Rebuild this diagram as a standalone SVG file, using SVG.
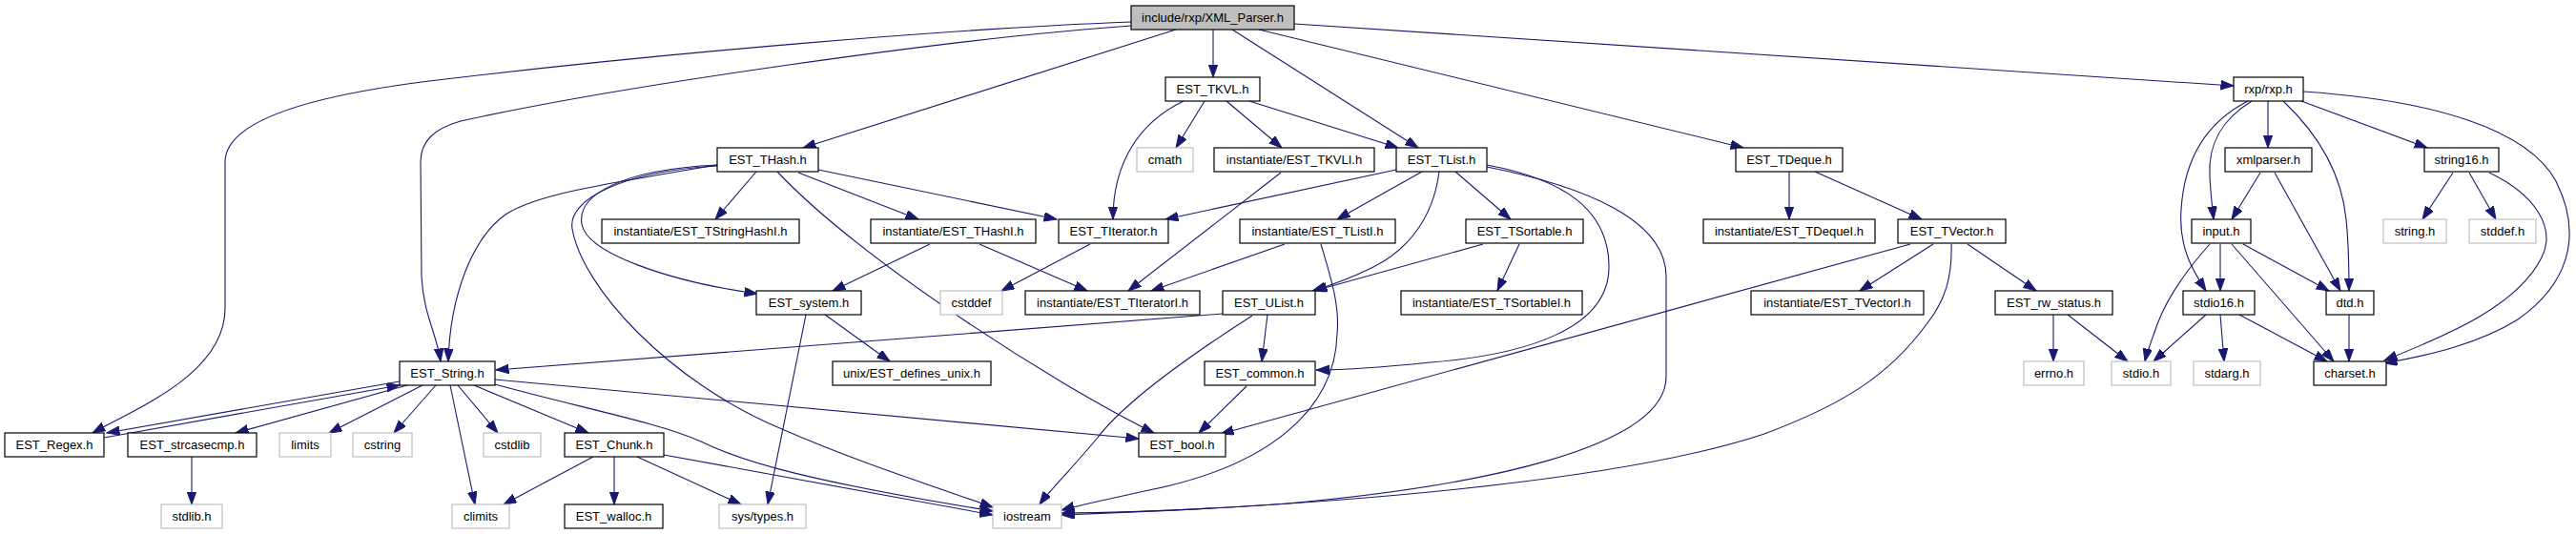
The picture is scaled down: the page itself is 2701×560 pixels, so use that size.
<svg xmlns="http://www.w3.org/2000/svg" width="2701" height="560" viewBox="0 0 2701 560">
<style>
.n rect{fill:#ffffff;stroke:#000000;stroke-width:1.2}
.g rect{fill:#ffffff;stroke:#bfbfbf;stroke-width:1.2}
.r rect{fill:#bfbfbf;stroke:#000000;stroke-width:1.2}
text{font-family:"Liberation Sans",Arial,sans-serif;font-size:13px;fill:#000000;text-anchor:middle}
#edges path{fill:none;stroke:#191970;stroke-width:1.1;marker-end:url(#a)}
</style>
<defs>
<marker id="a" markerWidth="15" markerHeight="11" refX="13.5" refY="4.8" orient="auto" markerUnits="userSpaceOnUse">
<path d="M0,0 L13.5,4.8 L0,9.6 z" fill="#191970" stroke="#191970" stroke-width="1"/>
</marker>
</defs>
<rect width="2701" height="560" fill="#ffffff"/>
<g id="edges">
<path d="M1186,23 C1000,30 700,55 450,85 C330,100 236,125 236,170 L236,323 C236,390 150,425 97,454"/>
<path d="M1186,27 C1000,40 650,90 483,127 C455,135 441,148 441,170 L442,290 C444,330 458,350 462,379"/>
<path d="M1233,31 L842,155"/>
<path d="M1272,31 L1272,81"/>
<path d="M1292,31 L1487,155"/>
<path d="M1320,31 L1828,155"/>
<path d="M1357,25 L2342,90"/>
<path d="M1241,106 C1195,128 1167,170 1167,230"/>
<path d="M1263,106 L1233,155"/>
<path d="M1286,106 L1344,155"/>
<path d="M1310,106 L1466,155"/>
<path d="M793,180 L750,230"/>
<path d="M752,173 C620,195 560,205 530,225 C495,250 472,310 470,379"/>
<path d="M752,173 C650,178 605,205 610,235 C615,265 700,295 794,308"/>
<path d="M752,174 C650,180 595,210 600,240 C610,300 700,400 820,450 C900,485 980,510 1041,532"/>
<path d="M815,180 C900,270 1100,400 1210,454"/>
<path d="M837,181 L963,230"/>
<path d="M858,178 L1108,230"/>
<path d="M1464,178 L1222,230"/>
<path d="M1491,180 L1402,230"/>
<path d="M1526,180 L1584,230"/>
<path d="M1509,180 C1502,235 1470,265 1440,280 C1420,290 1400,298 1376,305"/>
<path d="M1555,256 L1378,305"/>
<path d="M1559,173 C1640,188 1687,220 1687,280 C1687,345 1600,372 1500,380 C1450,385 1410,388 1380,388"/>
<path d="M1559,175 C1660,195 1747,230 1747,290 L1747,395 C1747,470 1550,510 1350,528 C1250,535 1170,538 1113,538"/>
<path d="M1385,256 C1395,290 1405,320 1402,350 C1400,430 1330,490 1200,515 C1160,524 1130,530 1113,535"/>
<path d="M1343,181 L1183,305"/>
<path d="M1347,256 L1207,305"/>
<path d="M975,256 L873,305"/>
<path d="M1027,256 L1140,305"/>
<path d="M1143,256 L1050,305"/>
<path d="M1593,256 L1570,305"/>
<path d="M1876,180 L1876,230"/>
<path d="M1903,180 L2015,230"/>
<path d="M2003,256 L1280,455"/>
<path d="M2027,256 L1950,305"/>
<path d="M2046,256 C2047,290 2040,315 2020,340 C1980,395 1930,425 1850,455 C1700,505 1400,530 1113,540"/>
<path d="M2063,256 L2135,305"/>
<path d="M2153,330 L2153,379"/>
<path d="M2168,330 L2231,379"/>
<path d="M2378,106 L2378,155"/>
<path d="M2413,106 L2545,155"/>
<path d="M2361,106 C2330,125 2315,150 2317,185 C2318,205 2320,220 2321,230"/>
<path d="M2357,106 C2310,130 2290,170 2287,220 C2284,260 2300,285 2313,305"/>
<path d="M2394,106 C2430,140 2455,180 2460,230 C2463,260 2463,285 2463,305"/>
<path d="M2415,96 C2550,105 2650,135 2680,190 C2710,250 2690,300 2640,335 C2600,360 2550,372 2500,381"/>
<path d="M2610,181 C2660,205 2680,240 2665,270 C2640,320 2570,350 2500,378"/>
<path d="M2572,181 L2540,230"/>
<path d="M2589,181 L2617,230"/>
<path d="M2370,181 L2340,230"/>
<path d="M2385,181 L2454,305"/>
<path d="M2317,256 C2300,275 2275,305 2262,340 C2255,360 2251,370 2249,379"/>
<path d="M2328,256 L2328,305"/>
<path d="M2340,256 L2447,379"/>
<path d="M2352,256 L2442,305"/>
<path d="M2313,330 L2258,379"/>
<path d="M2328,330 L2332,379"/>
<path d="M2348,330 L2440,379"/>
<path d="M2463,330 L2463,379"/>
<path d="M419,400 L112,454"/>
<path d="M109,459 L419,404"/>
<path d="M427,404 L247,454"/>
<path d="M443,404 L345,454"/>
<path d="M457,404 L413,454"/>
<path d="M472,404 L498,529"/>
<path d="M480,404 L522,454"/>
<path d="M497,404 L617,454"/>
<path d="M519,403 C610,428 690,443 735,463 C780,485 850,505 1041,536"/>
<path d="M519,398 L1194,460"/>
<path d="M622,479 L528,529"/>
<path d="M644,479 L644,529"/>
<path d="M668,479 L777,529"/>
<path d="M696,477 L1041,540"/>
<path d="M201,479 L201,529"/>
<path d="M845,330 L805,529"/>
<path d="M865,330 L933,379"/>
<path d="M1282,329 L520,388"/>
<path d="M1329,330 L1323,379"/>
<path d="M1313,331 C1260,365 1180,420 1150,460 C1125,490 1100,515 1090,529"/>
<path d="M1307,405 L1257,454"/>
</g>
<g id="root" class="r"><rect x="1186" y="6" width="171" height="25"/><text x="1271.5" y="23">include/rxp/XML_Parser.h</text></g>
<g id="tkvl" class="n"><rect x="1222" y="81" width="99" height="25"/><text x="1271.5" y="98">EST_TKVL.h</text></g>
<g id="rxp" class="n"><rect x="2342" y="81" width="73" height="25"/><text x="2378.5" y="98">rxp/rxp.h</text></g>
<g id="thash" class="n"><rect x="752" y="155" width="106" height="25"/><text x="805" y="172">EST_THash.h</text></g>
<g id="cmath" class="g"><rect x="1192" y="155" width="59" height="25"/><text x="1221.5" y="172">cmath</text></g>
<g id="tkvli" class="n"><rect x="1273" y="155" width="168" height="25"/><text x="1357" y="172">instantiate/EST_TKVLI.h</text></g>
<g id="tlist" class="n"><rect x="1464" y="155" width="95" height="25"/><text x="1511.5" y="172">EST_TList.h</text></g>
<g id="tdeque" class="n"><rect x="1820" y="155" width="112" height="25"/><text x="1876" y="172">EST_TDeque.h</text></g>
<g id="xmlparser" class="n"><rect x="2333" y="155" width="91" height="25"/><text x="2378.5" y="172">xmlparser.h</text></g>
<g id="string16" class="n"><rect x="2542" y="155" width="78" height="25"/><text x="2581" y="172">string16.h</text></g>
<g id="tstringhashi" class="n"><rect x="631" y="230" width="207" height="25"/><text x="734.5" y="247">instantiate/EST_TStringHashI.h</text></g>
<g id="thashi" class="n"><rect x="913" y="230" width="173" height="25"/><text x="999.5" y="247">instantiate/EST_THashI.h</text></g>
<g id="titerator" class="n"><rect x="1110" y="230" width="115" height="25"/><text x="1167.5" y="247">EST_TIterator.h</text></g>
<g id="tlisti" class="n"><rect x="1300" y="230" width="163" height="25"/><text x="1381.5" y="247">instantiate/EST_TListI.h</text></g>
<g id="tsortable" class="n"><rect x="1537" y="230" width="123" height="25"/><text x="1598.5" y="247">EST_TSortable.h</text></g>
<g id="tdequei" class="n"><rect x="1786" y="230" width="180" height="25"/><text x="1876" y="247">instantiate/EST_TDequeI.h</text></g>
<g id="tvector" class="n"><rect x="1990" y="230" width="113" height="25"/><text x="2046.5" y="247">EST_TVector.h</text></g>
<g id="input" class="n"><rect x="2298" y="230" width="62" height="25"/><text x="2329" y="247">input.h</text></g>
<g id="stringh" class="g"><rect x="2499" y="230" width="66" height="25"/><text x="2532" y="247">string.h</text></g>
<g id="stddef" class="g"><rect x="2589" y="230" width="70" height="25"/><text x="2624" y="247">stddef.h</text></g>
<g id="system" class="n"><rect x="793" y="305" width="110" height="25"/><text x="848" y="322">EST_system.h</text></g>
<g id="cstddef" class="g"><rect x="986" y="305" width="65" height="25"/><text x="1018.5" y="322">cstddef</text></g>
<g id="titeratori" class="n"><rect x="1075" y="305" width="183" height="25"/><text x="1166.5" y="322">instantiate/EST_TIteratorI.h</text></g>
<g id="ulist" class="n"><rect x="1282" y="305" width="97" height="25"/><text x="1330.5" y="322">EST_UList.h</text></g>
<g id="tsortablei" class="n"><rect x="1469" y="305" width="190" height="25"/><text x="1564" y="322">instantiate/EST_TSortableI.h</text></g>
<g id="tvectori" class="n"><rect x="1836" y="305" width="181" height="25"/><text x="1926.5" y="322">instantiate/EST_TVectorI.h</text></g>
<g id="rwstatus" class="n"><rect x="2092" y="305" width="123" height="25"/><text x="2153.5" y="322">EST_rw_status.h</text></g>
<g id="stdio16" class="n"><rect x="2289" y="305" width="75" height="25"/><text x="2326.5" y="322">stdio16.h</text></g>
<g id="dtd" class="n"><rect x="2439" y="305" width="50" height="25"/><text x="2464" y="322">dtd.h</text></g>
<g id="string" class="n"><rect x="419" y="379" width="100" height="25"/><text x="469" y="396">EST_String.h</text></g>
<g id="unix" class="n"><rect x="873" y="379" width="166" height="25"/><text x="956" y="396">unix/EST_defines_unix.h</text></g>
<g id="common" class="n"><rect x="1263" y="379" width="116" height="25"/><text x="1321" y="396">EST_common.h</text></g>
<g id="errno" class="g"><rect x="2122" y="379" width="63" height="25"/><text x="2153.5" y="396">errno.h</text></g>
<g id="stdio" class="g"><rect x="2214" y="379" width="62" height="25"/><text x="2245" y="396">stdio.h</text></g>
<g id="stdarg" class="g"><rect x="2300" y="379" width="70" height="25"/><text x="2335" y="396">stdarg.h</text></g>
<g id="charset" class="n"><rect x="2426" y="379" width="76" height="25"/><text x="2464" y="396">charset.h</text></g>
<g id="regex" class="n"><rect x="5" y="454" width="104" height="25"/><text x="57" y="471">EST_Regex.h</text></g>
<g id="strcasecmp" class="n"><rect x="134" y="454" width="135" height="25"/><text x="201.5" y="471">EST_strcasecmp.h</text></g>
<g id="limits" class="g"><rect x="293" y="454" width="54" height="25"/><text x="320" y="471">limits</text></g>
<g id="cstring" class="g"><rect x="370" y="454" width="62" height="25"/><text x="401" y="471">cstring</text></g>
<g id="cstdlib" class="g"><rect x="507" y="454" width="60" height="25"/><text x="537" y="471">cstdlib</text></g>
<g id="chunk" class="n"><rect x="592" y="454" width="104" height="25"/><text x="644" y="471">EST_Chunk.h</text></g>
<g id="bool" class="n"><rect x="1194" y="454" width="91" height="25"/><text x="1239.5" y="471">EST_bool.h</text></g>
<g id="stdlib" class="g"><rect x="169" y="529" width="64" height="25"/><text x="201" y="546">stdlib.h</text></g>
<g id="climits" class="g"><rect x="474" y="529" width="60" height="25"/><text x="504" y="546">climits</text></g>
<g id="walloc" class="n"><rect x="592" y="529" width="103" height="25"/><text x="643.5" y="546">EST_walloc.h</text></g>
<g id="systypes" class="g"><rect x="754" y="529" width="91" height="25"/><text x="799.5" y="546">sys/types.h</text></g>
<g id="iostream" class="g"><rect x="1041" y="529" width="72" height="25"/><text x="1077" y="546">iostream</text></g>
</svg>
